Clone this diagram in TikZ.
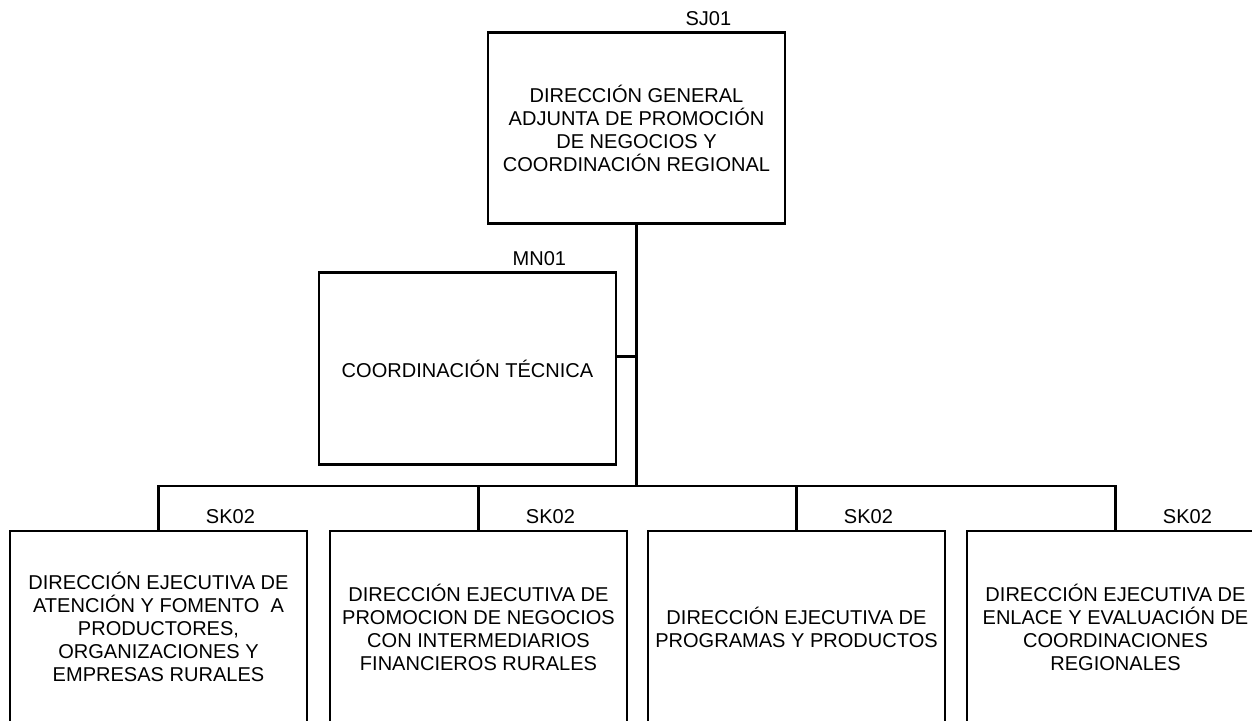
\documentclass[tikz,border=0pt]{standalone}
\usepackage{fontspec}
\setmainfont{Liberation Sans}
\usetikzlibrary{positioning, calc}
\tikzset{
  every picture/.style={line width=1.6pt},
  unit/.style={draw=black, align=center, minimum width=5.94cm, inner sep=2pt, font=\fontsize{11.4}{13.1}\selectfont},
  code/.style={anchor=base, inner sep=0pt, font=\fontsize{11.4}{13.1}\selectfont},
  link/.style={draw=black, line width=1.6pt, line cap=rect},
}

\begin{document}
\begin{tikzpicture}
  \useasboundingbox (0,0) rectangle (25.04,-14.4);
  \clip (0,0) rectangle (25.04,-14.4);
  \node[unit, minimum height=3.82cm] (sj) at (12.73,-2.56) {DIRECCIÓN GENERAL\\ ADJUNTA DE PROMOCIÓN\\DE NEGOCIOS Y\\COORDINACIÓN REGIONAL};
  \node[code] at ($(sj.north east)+(-1.56,0.12)$) {SJ01};
  \node[unit, minimum height=3.84cm] (mn) at (9.35,-7.37) {COORDINACIÓN TÉCNICA};
  \node[code] at ($(mn.north east)+(-1.56,0.12)$) {MN01};
  \coordinate (bus) at (12.73,-9.72);
  \draw[link] (sj.south) -- (bus);
  \draw[link] ([yshift=0.24cm]mn.east) -- ([yshift=0.24cm]mn.east -| sj.south);
  \foreach \x/\n/\t in {3.17/ea/{DIRECCIÓN EJECUTIVA DE\\ATENCIÓN Y FOMENTO~ A\\PRODUCTORES,\\ORGANIZACIONES Y\\EMPRESAS RURALES}, 9.57/eb/{DIRECCIÓN EJECUTIVA DE\\PROMOCION DE NEGOCIOS\\CON INTERMEDIARIOS\\FINANCIEROS RURALES}, 15.93/ec/{DIRECCIÓN EJECUTIVA DE\\PROGRAMAS Y PRODUCTOS}, 22.31/ed/{DIRECCIÓN EJECUTIVA DE\\ENLACE Y EVALUACIÓN DE\\COORDINACIONES\\REGIONALES}} {
    \node[unit, minimum height=3.84cm] (\n) at (\x,-12.54) {\t};
    \node[code] at ($(\n.north east)+(-1.56,0.12)$) {SK02};
    \draw[link] (\n.north) -- (\n.north |- bus);
  }
  \draw[link] (ea.north |- bus) -- (ed.north |- bus);
\end{tikzpicture}
\end{document}
